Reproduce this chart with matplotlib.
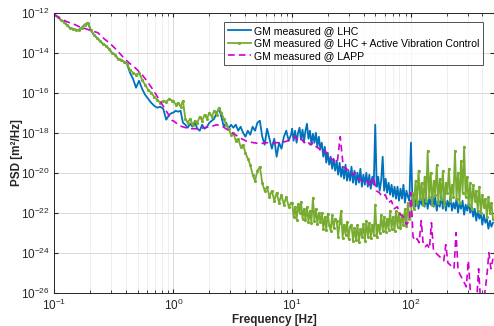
import numpy as np
import matplotlib
matplotlib.use("Agg")
import matplotlib.pyplot as plt
from matplotlib.ticker import LogLocator, NullFormatter, NullLocator

plt.rcParams['font.family'] = ['Liberation Sans', 'DejaVu Sans']
plt.rcParams['mathtext.fontset'] = 'custom'
plt.rcParams['mathtext.rm'] = 'Liberation Sans'

# frequency band edges [Hz] for each decade segment
band_a = (0.1, 0.98)
band_b = (1.0, 9.8)
band_c = (10.0, 97.0)
band_d = (100.0, 490.0)

# log10 PSD [m^2/Hz], per decade
lhc_a = [-12.1, -12.2, -12.35, -12.45, -12.6, -12.75, -12.8, -12.85, -12.87, -12.75,
         -12.6, -12.5, -12.85, -13.1, -13.25, -13.4, -13.55, -13.65, -13.8, -14.0,
         -14.1, -14.3, -14.35, -14.45, -14.55, -15.0, -15.3, -15.75, -15.4, -15.8,
         -16.1, -16.3, -16.5, -16.65, -16.75, -16.7, -16.8, -17.35, -17.1, -17.0]
lhc_b = [-17.0, -16.9, -16.95, -16.9, -17.5, -17.6, -17.75, -17.55, -17.7, -17.5,
         -17.8, -17.9, -17.6, -17.8, -17.7, -17.5, -17.4, -17.3, -17.0, -16.8,
         -17.2, -17.7, -17.5, -17.8, -17.6, -17.75, -17.6, -17.9, -17.7, -18.0,
         -18.2, -17.9, -18.1, -17.7, -17.9, -17.5, -17.4, -18.2, -18.6, -17.8,
         -18.3, -18.8, -18.3, -19.2, -18.5, -18.8, -18.2, -17.9, -18.4, -18.1]
lhc_c = [-17.8, -18.4, -17.9, -18.5, -18.0, -17.75, -18.35, -17.85, -18.45, -17.9,
         -17.55, -18.3, -17.9, -18.6, -18.05, -18.5, -18.0, -18.7, -18.2, -18.8,
         -18.5, -19.2, -18.7, -19.5, -19.0, -19.6, -19.2, -19.8, -19.3, -19.9,
         -19.4, -20.1, -19.5, -20.2, -19.7, -20.3, -19.6, -20.4, -19.9, -20.4,
         -19.7, -20.5, -19.9, -20.6, -20.0, -20.5, -19.8, -20.7, -20.1, -20.6,
         -20.0, -20.7, -20.1, -20.8, -20.2, -20.6, -17.6, -20.7, -20.2, -20.9,
         -20.4, -19.2, -20.9, -20.3, -21.0, -20.5, -21.1, -20.6, -21.2, -20.7,
         -21.3, -20.7, -21.4, -20.8, -21.3, -20.6, -21.5, -20.9, -21.2, -21.4]
lhc_d = [-18.5, -21.6, -21.1, -21.7, -21.2, -21.8, -21.3, -21.6, -21.0, -21.7,
         -21.2, -21.8, -21.3, -21.6, -21.0, -21.7, -21.2, -21.9, -21.4, -21.7,
         -21.1, -21.8, -21.3, -21.9, -21.4, -21.7, -21.2, -21.9, -21.5, -21.8,
         -21.3, -22.0, -21.5, -21.8, -21.4, -22.1, -21.6, -21.9, -21.5, -22.0,
         -21.7, -22.2, -21.8, -22.4, -21.9, -22.3, -22.0, -22.6, -22.1, -22.5,
         -22.3, -22.8, -22.4, -22.7, -22.5]

avc_a = [-12.1, -12.2, -12.35, -12.45, -12.6, -12.75, -12.8, -12.85, -12.87, -12.75,
         -12.6, -12.5, -12.85, -13.1, -13.25, -13.4, -13.55, -13.65, -13.8, -14.0,
         -14.1, -14.3, -14.35, -14.45, -14.55, -14.85, -15.0, -15.1, -15.0, -15.35,
         -15.6, -15.85, -16.0, -16.2, -16.35, -16.5, -16.4, -16.45, -16.3, -16.4]
avc_b = [-16.4, -16.6, -16.5, -16.7, -16.4, -17.3, -17.5, -17.3, -17.6, -17.4,
         -17.5, -17.2, -17.4, -17.1, -17.3, -17.0, -17.2, -16.9, -17.1, -16.75,
         -17.0, -17.3, -17.6, -17.8, -18.1, -18.0, -18.4, -18.3, -18.7, -18.6,
         -19.0, -19.3, -19.6, -20.1, -20.4, -19.9, -19.7, -20.5, -20.9, -20.7,
         -21.2, -20.9, -21.4, -21.0, -21.5, -21.1, -21.6, -21.2, -21.7, -21.5]
avc_c = [-21.5, -22.2, -21.7, -22.35, -21.55, -22.0, -21.45, -22.3, -21.8, -22.35,
         -21.7, -22.45, -21.9, -22.5, -21.25, -22.4, -21.8, -22.55, -22.0, -22.45,
         -22.0, -22.8, -22.2, -22.85, -22.05, -22.6, -22.9, -22.1, -22.75, -22.3,
         -22.4, -23.2, -22.5, -21.9, -23.25, -22.6, -23.1, -22.45, -23.3, -22.7,
         -22.6, -23.4, -22.75, -23.35, -22.6, -23.45, -22.8, -23.2, -22.55, -23.4,
         -22.4, -23.2, -22.5, -23.25, -22.6, -23.1, -21.6, -23.2, -22.6, -23.0,
         -22.1, -22.9, -22.2, -22.95, -22.3, -22.85, -21.9, -22.8, -22.2, -22.9,
         -21.9, -22.7, -22.0, -22.75, -22.1, -22.6, -21.8, -22.65, -21.5, -22.3]
avc_d = [-22.1, -21.0, -21.8, -20.4, -21.5, -19.9, -21.3, -20.5, -21.6, -20.2,
         -21.4, -18.9, -21.2, -20.0, -21.6, -20.4, -21.1, -19.6, -21.5, -20.3,
         -21.3, -19.9, -21.6, -20.5, -21.0, -19.8, -21.4, -20.6, -21.2, -18.9,
         -21.3, -20.0, -21.5, -19.4, -21.0, -18.7, -21.2, -20.2, -21.6, -20.5,
         -21.8, -20.6, -21.4, -20.9, -21.9, -20.7, -22.0, -21.1, -21.7, -21.3,
         -22.2, -21.2, -22.0, -21.5, -22.3]

lapp_a = [-12.1, -12.3, -12.45, -12.55, -12.7, -12.8, -12.9, -13.0, -13.3, -13.55,
          -13.85, -14.2, -14.5, -14.75, -15.05, -15.45, -15.9, -16.4, -16.9, -17.4]
lapp_b = [-17.4, -17.65, -17.75, -17.8, -17.8, -17.75, -17.7, -17.6, -17.7, -17.9,
          -18.1, -18.3, -18.45, -18.5, -18.55, -18.5, -18.5, -18.5, -18.45, -18.35]
lapp_c = [-18.3, -18.2, -18.4, -18.3, -18.5, -18.4, -18.6, -18.5, -18.7, -18.8,
          -19.0, -18.9, -19.2, -19.3, -19.4, -19.5, -18.2, -19.7, -19.8, -19.9,
          -20.1, -20.0, -20.3, -20.4, -20.5, -20.4, -20.7, -20.2, -20.9, -21.0,
          -21.2, -21.1, -21.5, -21.4, -21.8, -21.7, -22.1, -22.2, -22.6, -22.4]
lapp_d = [-21.0, -23.2, -23.4, -23.3, -23.5, -22.4, -23.6, -23.7, -23.6, -23.8,
          -22.5, -23.9, -24.0, -24.1, -24.2, -24.3, -24.4, -23.6, -24.5, -24.6,
          -24.7, -24.8, -23.0, -24.9, -25.1, -25.3, -25.5, -25.7, -24.4, -26.0,
          -26.3, -26.5, -26.5, -24.8, -26.5, -26.4, -26.0, -25.2, -24.0, -24.8, -24.3]

labels = ["GM measured @ LHC",
          "GM measured @ LHC + Active Vibration Control",
          "GM measured @ LAPP"]
ytick_exp = [-12, -14, -16, -18, -20, -22, -24, -26]
xtick_exp = [-1, 0, 1, 2]


def stitch(parts):
    # join decade segments into one frequency / PSD pair
    freqs, vals = [], []
    for band, seg in zip((band_a, band_b, band_c, band_d), parts):
        freqs.append(np.geomspace(band[0], band[1], len(seg)))
        vals.append(np.array(seg))
    return np.concatenate(freqs), 10.0 ** np.concatenate(vals)


fig = plt.figure(figsize=(4.94, 3.26), dpi=100)
ax = fig.add_axes([0.1103, 0.1021, 0.8897, 0.8589])

f1, p1 = stitch([lhc_a, lhc_b, lhc_c, lhc_d])
f2, p2 = stitch([avc_a, avc_b, avc_c, avc_d])
f3, p3 = stitch([lapp_a, lapp_b, lapp_c, lapp_d])

ax.loglog(f1, p1, color='#0072BD', lw=1.3, label=labels[0])
ax.loglog(f2, p2, color='#77AC30', lw=1.3, marker='.', ms=2.5, label=labels[1])
ax.loglog(f3, p3, color='#D000D0', lw=1.2, dashes=(4, 2.5), label=labels[2])

ax.set_xlim(0.1, 500)
ax.set_ylim(1e-26, 1e-12)

ax.set_xticks([10.0 ** e for e in xtick_exp])
ax.set_xticklabels([r'$10^{%d}$' % e for e in xtick_exp])
ax.set_yticks([10.0 ** e for e in ytick_exp])
ax.set_yticklabels([r'$10^{%d}$' % e for e in ytick_exp])
ax.xaxis.set_minor_locator(LogLocator(base=10, subs=np.arange(2, 10), numticks=20))
ax.xaxis.set_minor_formatter(NullFormatter())
ax.yaxis.set_minor_locator(NullLocator())

ax.grid(True, which='major', color='#d9d9d9', lw=0.7)
ax.grid(True, which='minor', axis='x', color='#ececec', lw=0.6)
ax.set_axisbelow(True)

ax.tick_params(which='both', direction='in', top=True, right=True,
               labelsize=8.5, colors='#262626', length=3)
ax.tick_params(which='minor', length=2)
for sp in ax.spines.values():
    sp.set_color('#262626')
    sp.set_linewidth(0.7)

ax.set_xlabel("Frequency [Hz]", fontsize=8.5, fontweight='bold', color='#262626', labelpad=1)
ax.set_ylabel("PSD [m²/Hz]", fontsize=8.5, fontweight='bold', color='#262626', labelpad=-2)

leg = ax.legend(loc='upper right', bbox_to_anchor=(0.975, 0.967), borderaxespad=0,
                fontsize=7.6, frameon=True, fancybox=False, handlelength=2.2,
                handletextpad=0.3, labelspacing=0.25, borderpad=0.35)
leg.get_frame().set_edgecolor('#262626')
leg.get_frame().set_linewidth(0.7)

fig.savefig("out.png", dpi=100)
